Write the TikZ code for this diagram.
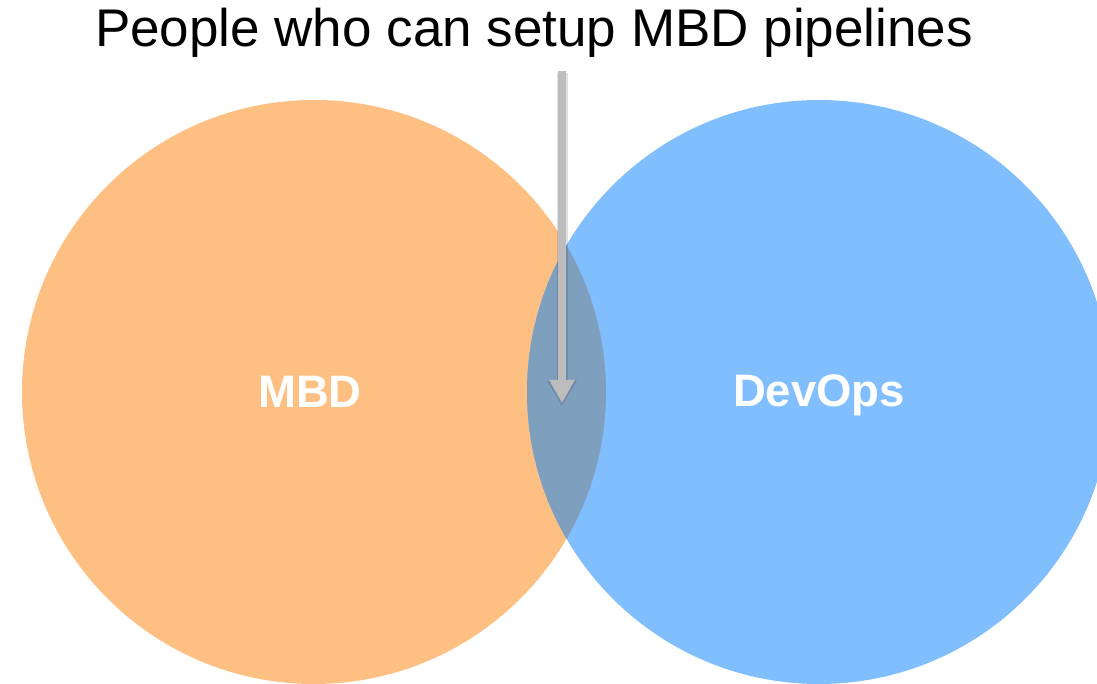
\documentclass[tikz,border=0pt]{standalone}
\usepackage{fontspec}
\setmainfont{Liberation Sans}
\usetikzlibrary{arrows.meta}

\definecolor{mbdorange}{HTML}{FEBF83}
\definecolor{devblue}{HTML}{80BEFD}
\definecolor{overlapblue}{HTML}{7F9FBF}
\definecolor{arrowgray}{HTML}{BDBDBD}

\tikzset{
    setcircle/.style={circle, minimum size=584pt, inner sep=0pt},
    setlabel/.style={anchor=base, text=white, font=\fontsize{45.5}{52}\selectfont\bfseries},
}

\begin{document}
\begin{tikzpicture}[x=1pt, y=1pt]

    \useasboundingbox (0,0) rectangle (1097,683);
    \clip (0,0) rectangle (1097,683);

    % Circles
    \node[setcircle, fill=mbdorange] (mbd) at (314,291) {};
    \node[setcircle, fill=devblue] (devops) at (819,291) {};

    % Overlap of the two sets
    \begin{scope}
    \clip (314,291) circle (292);
        \fill[overlapblue] (819,291) circle (292);
    \end{scope}

    % Labels
    \node[setlabel] (mbdlabel) at (310,275) {MBD};
    \node[setlabel] (devopslabel) at (819,276) {DevOps};

    % Title
    \node[anchor=base, font=\fontsize{53}{60}\selectfont] (title) at (534,636) {People who can setup MBD pipelines};

    % Arrow into the overlap
    \coordinate (arrowtop) at (562,612);
    \coordinate (arrowtip) at (562,280);
    \draw[black, opacity=0.12, line width=11pt, -{Triangle[width=28pt, length=25pt]}]
        ([yshift=-2pt]arrowtop) -- ([yshift=-3pt]arrowtip);
    \draw[arrowgray, line width=8pt, -{Triangle[width=24pt, length=23pt]}] (arrowtop) -- (arrowtip);

\end{tikzpicture}
\end{document}
